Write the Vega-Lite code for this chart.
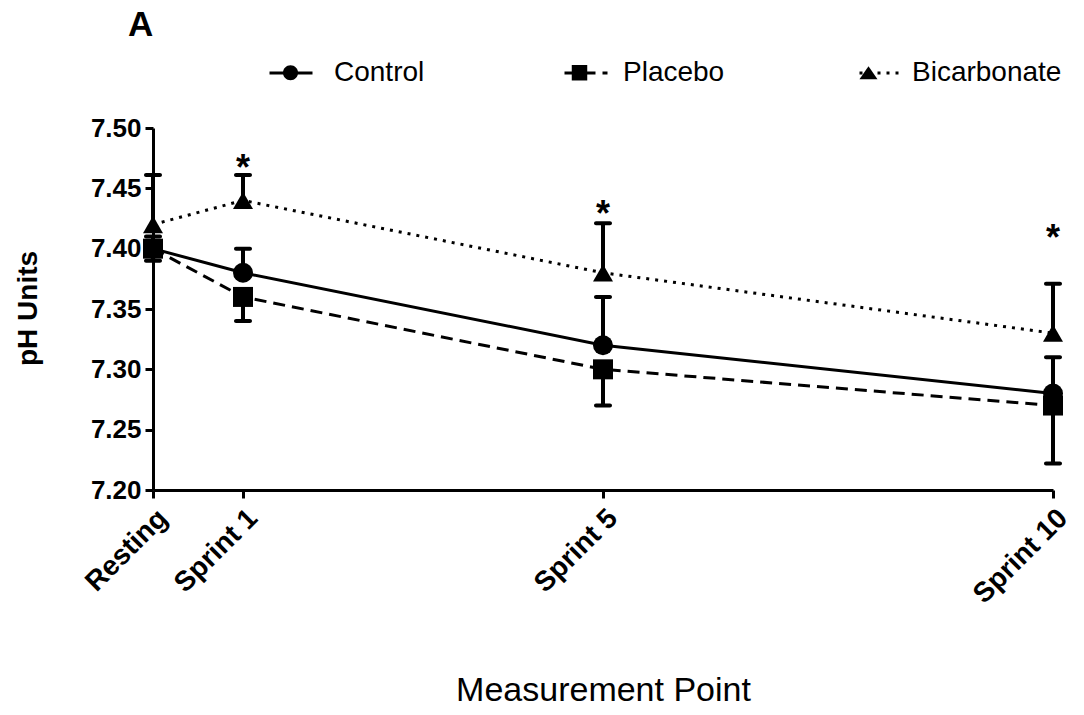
{
  "$schema": "https://vega.github.io/schema/vega-lite/v6.json",
  "width": 900,
  "height": 362,
  "autosize": {"type": "none"},
  "padding": {"left": 153, "top": 128, "right": 31, "bottom": 225},
  "background": "white",
  "title": {"text": "A", "anchor": "start", "frame": "group", "dx": -25, "dy": 34, "offset": 13, "baseline": "alphabetic", "fontSize": 35, "fontWeight": "bold", "font": "Liberation Sans", "color": "black"},
  "config": {
    "font": "Liberation Sans",
    "view": {"stroke": null},
    "axis": {"domainColor": "black", "domainWidth": 3, "tickColor": "black", "tickWidth": 3, "tickSize": 8, "labelColor": "black", "titleColor": "black", "grid": false, "labelFont": "Liberation Sans", "titleFont": "Liberation Sans", "labelOverlap": false, "labelBound": false}
  },
  "datasets": {
    "pts": [
      {"group": "Control", "x": 0, "y": 7.40, "err": 7.41},
      {"group": "Control", "x": 1, "y": 7.38, "err": 7.40},
      {"group": "Control", "x": 5, "y": 7.32, "err": 7.36},
      {"group": "Control", "x": 10, "y": 7.28, "err": 7.31},
      {"group": "Placebo", "x": 0, "y": 7.40, "err": 7.39},
      {"group": "Placebo", "x": 1, "y": 7.36, "err": 7.34},
      {"group": "Placebo", "x": 5, "y": 7.30, "err": 7.27},
      {"group": "Placebo", "x": 10, "y": 7.27, "err": 7.222},
      {"group": "Bicarbonate", "x": 0, "y": 7.42, "err": 7.461},
      {"group": "Bicarbonate", "x": 1, "y": 7.44, "err": 7.461},
      {"group": "Bicarbonate", "x": 5, "y": 7.38, "err": 7.421},
      {"group": "Bicarbonate", "x": 10, "y": 7.33, "err": 7.371}
    ],
    "stars": [
      {"x": 1, "y": 7.472, "t": "*"},
      {"x": 5, "y": 7.434, "t": "*"},
      {"x": 10, "y": 7.414, "t": "*"}
    ]
  },
  "layer": [
    {
      "data": {"name": "pts"},
      "transform": [{"filter": "datum.group === 'Control'"}],
      "mark": {"type": "line", "color": "black", "strokeWidth": 3, "strokeCap": "butt"},
      "encoding": {
        "x": {"field": "x", "type": "quantitative", "scale": {"domain": [0, 10], "nice": false, "zero": false},
          "axis": {"values": [0, 1, 5, 10], "labelExpr": "datum.value == 0 ? 'Resting' : 'Sprint ' + datum.value", "labelAngle": -45, "labelFontSize": 28, "labelFontWeight": "bold", "labelPadding": 6, "labelDx": -5,
            "title": "Measurement Point", "titleFontSize": 34, "titleFontWeight": "normal", "titleX": 450, "titleY": 200, "titleBaseline": "middle", "titleAnchor": "middle"}},
        "y": {"field": "y", "type": "quantitative", "scale": {"domain": [7.2, 7.5], "nice": false, "zero": false},
          "axis": {"values": [7.2, 7.25, 7.3, 7.35, 7.4, 7.45, 7.5], "format": ".2f", "labelFontSize": 26, "labelFontWeight": "bold", "labelPadding": 4,
            "title": "pH Units", "titleFontSize": 28, "titleFontWeight": "bold", "titleX": -125, "titleY": 180, "titleAngle": -90, "titleAlign": "center", "titleBaseline": "middle"}}
      }
    },
    {
      "data": {"name": "pts"},
      "transform": [{"filter": "datum.group === 'Placebo'"}],
      "mark": {"type": "line", "color": "black", "strokeWidth": 3, "strokeCap": "butt", "strokeDash": [12, 7]},
      "encoding": {
        "x": {"field": "x", "type": "quantitative"},
        "y": {"field": "y", "type": "quantitative"}
      }
    },
    {
      "data": {"name": "pts"},
      "transform": [{"filter": "datum.group === 'Bicarbonate'"}],
      "mark": {"type": "line", "color": "black", "strokeWidth": 3, "strokeCap": "butt", "strokeDash": [3, 6]},
      "encoding": {
        "x": {"field": "x", "type": "quantitative"},
        "y": {"field": "y", "type": "quantitative"}
      }
    },
    {
      "data": {"name": "pts"},
      "mark": {"type": "rule", "color": "black", "strokeWidth": 4},
      "encoding": {
        "x": {"field": "x", "type": "quantitative"},
        "y": {"field": "y", "type": "quantitative"},
        "y2": {"field": "err"}
      }
    },
    {
      "data": {"name": "pts"},
      "mark": {"type": "tick", "orient": "horizontal", "color": "black", "opacity": 1, "size": 18, "thickness": 4, "cornerRadius": 2},
      "encoding": {
        "x": {"field": "x", "type": "quantitative"},
        "y": {"field": "err", "type": "quantitative"}
      }
    },
    {
      "data": {"name": "pts"},
      "transform": [{"filter": "datum.group === 'Control'"}],
      "mark": {"type": "point", "shape": "circle", "filled": true, "color": "black", "size": 400, "opacity": 1},
      "encoding": {
        "x": {"field": "x", "type": "quantitative"},
        "y": {"field": "y", "type": "quantitative"}
      }
    },
    {
      "data": {"name": "pts"},
      "transform": [{"filter": "datum.group === 'Placebo'"}],
      "mark": {"type": "point", "shape": "square", "filled": true, "color": "black", "size": 400, "opacity": 1},
      "encoding": {
        "x": {"field": "x", "type": "quantitative"},
        "y": {"field": "y", "type": "quantitative"}
      }
    },
    {
      "data": {"name": "pts"},
      "transform": [{"filter": "datum.group === 'Bicarbonate'"}],
      "mark": {"type": "point", "shape": "triangle-up", "filled": true, "color": "black", "size": 400, "opacity": 1},
      "encoding": {
        "x": {"field": "x", "type": "quantitative"},
        "y": {"field": "y", "type": "quantitative"}
      }
    },
    {
      "data": {"name": "pts"},
      "transform": [{"filter": "datum.x < 0"}],
      "mark": {"type": "line", "color": "black", "strokeWidth": 3, "strokeCap": "butt"},
      "encoding": {
        "x": {"field": "x", "type": "quantitative"},
        "y": {"field": "y", "type": "quantitative"},
        "strokeDash": {"field": "group", "type": "nominal",
          "scale": {"domain": ["Control ", "Placebo ", "Bicarbonate "], "range": [[1, 0], [12, 7], [3, 6]]},
          "legend": {"orient": "none", "legendX": 115, "legendY": -78, "direction": "horizontal", "columns": 3, "gridAlign": "all", "columnPadding": 73, "padding": 0,
            "title": null, "symbolType": "stroke", "symbolSize": 1849, "symbolStrokeWidth": 3, "symbolStrokeColor": "black", "symbolOpacity": 1,
            "labelFontSize": 28, "labelFont": "Liberation Sans", "labelColor": "black", "labelOpacity": 0, "labelOffset": 21, "labelLimit": 400, "labelExpr": "trim(datum.label)"}}
      }
    },
    {
      "data": {"name": "pts"},
      "transform": [{"filter": "datum.x < 0"}],
      "mark": {"type": "point", "filled": true, "color": "black", "size": 1849, "opacity": 1},
      "encoding": {
        "x": {"field": "x", "type": "quantitative"},
        "y": {"field": "y", "type": "quantitative"},
        "shape": {"field": "group", "type": "nominal",
          "scale": {"domain": ["Control", "Placebo", "Bicarbonate"], "range": [
            "M-0.35,0A0.35,0.35 0 1,0 0.35,0A0.35,0.35 0 1,0 -0.35,0Z",
            "M-0.36,-0.36H0.36V0.36H-0.36Z",
            "M0,-0.3L0.42,0.3H-0.42Z"]},
          "legend": {"orient": "none", "legendX": 115, "legendY": -78, "direction": "horizontal", "columns": 3, "gridAlign": "all", "columnPadding": 73, "padding": 0,
            "title": null, "symbolSize": 1849, "symbolFillColor": "black", "symbolOpacity": 1,
            "labelFontSize": 28, "labelFont": "Liberation Sans", "labelColor": "black", "labelOffset": 21, "labelLimit": 400, "labelExpr": "trim(datum.label)"}}
      }
    },
    {
      "data": {"name": "stars"},
      "mark": {"type": "text", "fontSize": 36, "fontWeight": "bold", "color": "black", "baseline": "middle", "align": "center", "dy": 7},
      "encoding": {
        "x": {"field": "x", "type": "quantitative"},
        "y": {"field": "y", "type": "quantitative"},
        "text": {"field": "t"}
      }
    }
  ]
}
